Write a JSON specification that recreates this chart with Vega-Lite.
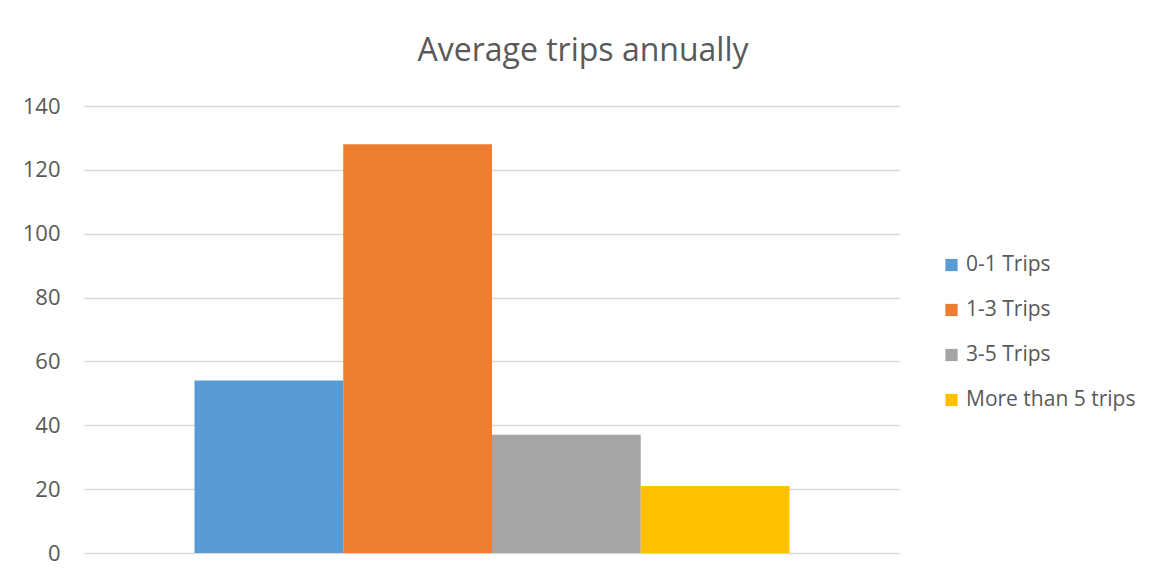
{
  "$schema": "https://vega.github.io/schema/vega-lite/v6.json",
  "autosize": "none",
  "width": 816,
  "height": 447,
  "padding": {"left": 84, "top": 106, "right": 259, "bottom": 26},
  "background": "white",
  "title": {
    "text": "Average trips annually",
    "font": "Open Sans",
    "fontSize": 32,
    "fontWeight": "normal",
    "color": "#595959",
    "anchor": "middle",
    "dx": 91,
    "offset": 27
  },
  "data": {
    "values": [
      {"series": "0-1 Trips", "value": 54},
      {"series": "1-3 Trips", "value": 128},
      {"series": "3-5 Trips", "value": 37},
      {"series": "More than 5 trips", "value": 21}
    ]
  },
  "mark": {"type": "bar"},
  "encoding": {
    "x": {
      "field": "series",
      "type": "nominal",
      "sort": null,
      "scale": {"paddingInner": 0, "paddingOuter": 0.743},
      "axis": null
    },
    "y": {
      "field": "value",
      "type": "quantitative",
      "scale": {"domain": [0, 140], "nice": false},
      "axis": {
        "values": [0, 20, 40, 60, 80, 100, 120, 140],
        "title": null,
        "domain": false,
        "ticks": false,
        "labelPadding": 24,
        "labelFont": "Open Sans",
        "labelFontSize": 22,
        "labelColor": "#595959",
        "gridColor": "#d9d9d9",
        "gridWidth": 1.3
      }
    },
    "color": {
      "field": "series",
      "type": "nominal",
      "sort": null,
      "scale": {
        "domain": ["0-1 Trips", "1-3 Trips", "3-5 Trips", "More than 5 trips"],
        "range": ["#5B9BD5", "#ED7D31", "#A5A5A5", "#FFC000"]
      },
      "legend": {
        "title": null,
        "orient": "none",
        "legendX": 857,
        "legendY": 148.5,
        "symbolType": "square",
        "symbolSize": 150,
        "symbolStrokeWidth": 0,
        "labelFont": "Open Sans",
        "labelFontSize": 21,
        "labelColor": "#595959",
        "labelOffset": 4,
        "labelLimit": 300,
        "rowPadding": 23,
        "symbolOpacity": 1
      }
    }
  },
  "config": {
    "view": {"stroke": null}
  }
}
